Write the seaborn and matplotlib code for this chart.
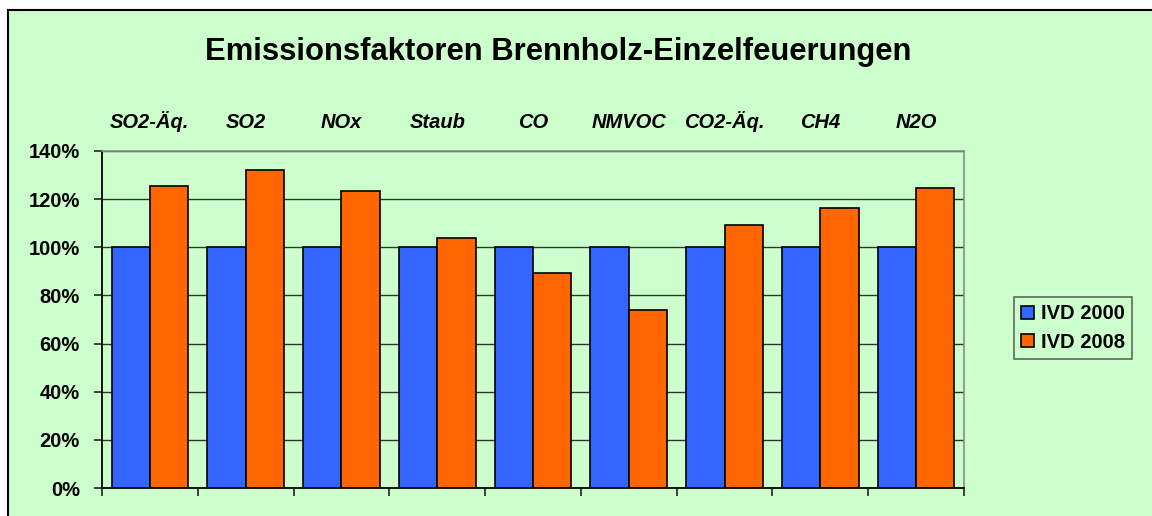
import matplotlib.pyplot as plt
import matplotlib.patches as mpatches
from matplotlib.ticker import FuncFormatter, FixedLocator
import numpy as np
import pandas as pd
import seaborn as sns

# Data (share relative to IVD 2000)
stoffe = ["SO2-Äq.", "SO2", "NOx", "Staub", "CO", "NMVOC", "CO2-Äq.", "CH4", "N2O"]
ivd_2000 = [1.00, 1.00, 1.00, 1.00, 1.00, 1.00, 1.00, 1.00, 1.00]
ivd_2008 = [1.253, 1.323, 1.235, 1.040, 0.893, 0.739, 1.092, 1.162, 1.247]
serien = ["IVD 2000", "IVD 2008"]
farben = ["#3366FF", "#FF6600"]
y_ticks = [0.0, 0.2, 0.4, 0.6, 0.8, 1.0, 1.2, 1.4]

GREEN = "#CCFFCC"

df = pd.DataFrame({
    "Stoff": stoffe * 2,
    "Wert": ivd_2000 + ivd_2008,
    "Inventar": [serien[0]] * len(stoffe) + [serien[1]] * len(stoffe),
})

sns.set_theme(style="white")
plt.rcParams["font.family"] = ["Liberation Sans", "DejaVu Sans"]
plt.rcParams["text.color"] = "black"
plt.rcParams["xtick.color"] = "black"
plt.rcParams["ytick.color"] = "black"

fig = plt.figure(figsize=(11.52, 5.16), dpi=100, facecolor="white")

# outer chart frame (light green, black border), kept behind the axes
frame = mpatches.Rectangle(
    (8 / 1152, -0.05), 1.2, 1 - 10 / 516 + 0.05,
    transform=fig.transFigure, facecolor=GREEN, edgecolor="black",
    linewidth=1.5, zorder=-10,
)
fig.patches.append(frame)

ax = fig.add_axes([102 / 1152, 1 - 488 / 516, (964 - 102) / 1152, (488 - 151) / 516])
ax.set_zorder(5)
ax.set_facecolor(GREEN)
ax.set_axisbelow(True)

sns.barplot(
    data=df, x="Stoff", y="Wert", hue="Inventar", order=stoffe,
    hue_order=serien, palette=farben, width=0.8, edgecolor="black",
    linewidth=1.2, saturation=1, ax=ax,
)

ax.set_ylim(0, 1.4)
ax.set_xlim(-0.5, len(stoffe) - 0.5)
ax.set_yticks(y_ticks)
ax.yaxis.set_major_formatter(FuncFormatter(lambda v, _: f"{v * 100:.0f}%"))
ax.yaxis.grid(True, color="#333333", linewidth=1.0)
ax.xaxis.grid(False)

# bottom axis: tick marks at category boundaries, no labels
ax.xaxis.set_major_locator(FixedLocator(np.arange(-0.5, len(stoffe), 1.0)))
ax.set_xticklabels([])
ax.tick_params(axis="x", bottom=True, direction="out", length=6, width=1.2, color="#222222")
ax.tick_params(axis="y", left=True, direction="out", length=6, width=1.2, color="#222222",
               labelsize=14.5, pad=10, labelcolor="black")
for lab in ax.get_yticklabels():
    lab.set_fontweight("bold")
ax.set_xlabel("")
ax.set_ylabel("")

for side in ("top", "right"):
    ax.spines[side].set_color("#8a8a8a")
    ax.spines[side].set_linewidth(1.2)
for side in ("left", "bottom"):
    ax.spines[side].set_color("#111111")
    ax.spines[side].set_linewidth(1.4)

# category names above the plot
top = ax.secondary_xaxis("top")
top.set_xticks(range(len(stoffe)))
top.set_xticklabels(stoffe, fontsize=14.5, fontweight="bold", fontstyle="italic", color="black")
top.tick_params(length=0, pad=14)
top.spines["top"].set_visible(False)

# legend
handles, labels = ax.get_legend_handles_labels()
ax.legend_.remove()
leg = fig.legend(
    handles, labels, loc="center", bbox_to_anchor=(1073 / 1152, 1 - 328 / 516),
    frameon=True, fancybox=False, facecolor=GREEN, edgecolor="#444444",
    handlelength=0.6, handleheight=0.6, handletextpad=0.35, borderpad=0.35,
    labelspacing=0.45, prop={"weight": "bold", "size": 14.5},
)
leg.get_frame().set_linewidth(1.2)
for t in leg.get_texts():
    t.set_color("black")

fig.text(558 / 1152, 1 - 52 / 516, "Emissionsfaktoren Brennholz-Einzelfeuerungen",
         ha="center", va="center", fontsize=22.3, fontweight="bold", color="black")

fig.savefig("out.png", dpi=100, facecolor="white")
